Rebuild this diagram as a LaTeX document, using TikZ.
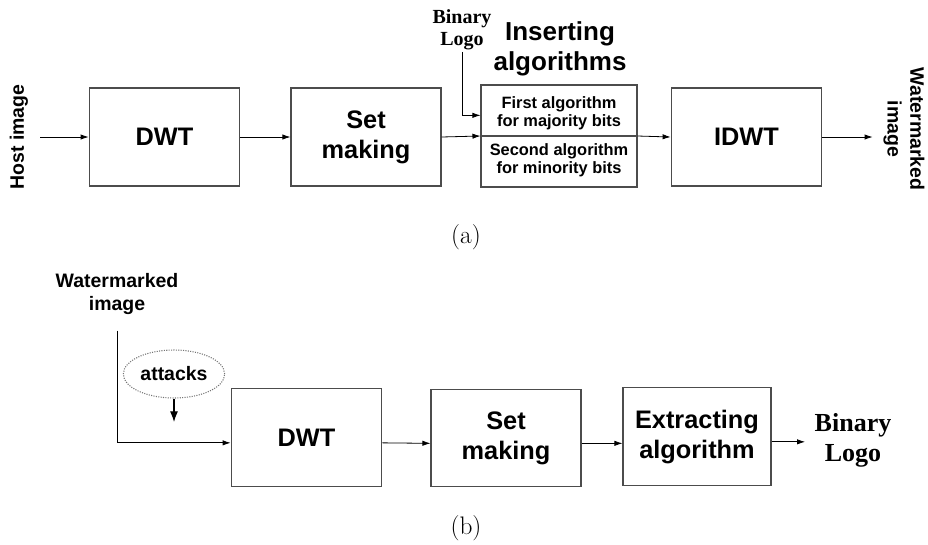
\documentclass[tikz,border=0pt]{standalone}
\usepackage{fontspec}
\setsansfont{Liberation Sans}
\newfontfamily\logofont{Liberation Serif}
\usetikzlibrary{arrows.meta,shapes.geometric}
\begin{document}
\begin{tikzpicture}[x=0.75pt, y=-0.75pt,
    box/.style={draw=black!70, line width=0.8pt, inner sep=0pt,
      minimum width=113pt, minimum height=73.5pt, align=center,
      font=\sffamily\bfseries\fontsize{19}{22.5}\selectfont},
    small/.style={align=center, inner sep=1pt,
      font=\sffamily\bfseries\fontsize{12.3}{13.2}\selectfont},
    label/.style={align=center, inner sep=1pt,
      font=\sffamily\bfseries\fontsize{14.6}{17}\selectfont},
    logo/.style={align=center, inner sep=1pt,
      font=\logofont\bfseries\fontsize{15}{16.5}\selectfont},
    arr/.style={-{Latex[length=6pt,width=4pt]}, line width=0.6pt}]
    \useasboundingbox (0,0) rectangle (928,544);
    % (a) embedding
    \node[label, rotate=90] (host) at (19,137) {Host image};
    \node[box] (dwt) at (164.5,137) {DWT};
    \node[box, minimum width=112.5pt] (set) at (366,137) {Set\\making};
    \node[draw=black!70, line width=0.8pt, minimum width=117pt,
          minimum height=76.5pt, inner sep=0pt] (ins) at (559,136) {};
    \draw[black!70, line width=0.8pt] (ins.west) -- (ins.east);
    \node[small] (first) at (559,113) {First algorithm\\for majority bits};
    \node[small] (second) at (559,160) {Second algorithm\\for minority bits};
    \node[label, font=\sffamily\bfseries\fontsize{19.5}{22.5}\selectfont]
         (title) at (560,49) {Inserting\\algorithms};
    \node[logo] (logoA) at (462,30) {Binary\\Logo};
    \node[box] (idwt) at (746.5,137) {IDWT};
    \node[label, rotate=-90] (wm) at (904,129) {Watermarked\\image};
    \draw[arr, shorten <=8pt] (host) -- (dwt);
    \draw[arr] (dwt) -- (set);
    \draw[arr] (set.east) -- (ins.west);
    \draw[arr] (logoA.south) |- ([yshift=15.5pt]ins.west);
    \draw[arr] (ins.east) -- (idwt.west);
    \draw[arr, shorten >=7pt] (idwt.east) -- (idwt.east -| wm.south);
    \node[font=\fontsize{19}{22}\selectfont] (capA) at (466,237) {(a)};
    % (b) extraction
    \node[label] (wm2) at (117,294) {Watermarked\\image};
    \node[label, draw=black!55, densely dotted, ellipse, line width=0.8pt,
          minimum width=76pt, minimum height=36pt, inner sep=0pt]
         (atk) at (174,374) {attacks};
    \coordinate (atkend) at (174,422);
    \node[box] (dwt2) at (306.5,437.5) {DWT};
    \node[box, minimum width=112.5pt, minimum height=73pt] (set2) at (506,438) {Set\\making};
    \node[box, minimum width=111pt, minimum height=73pt] (ext) at (697,436.5) {Extracting\\algorithm};
    \node[logo, font=\logofont\bfseries\fontsize{19.5}{22.5}\selectfont]
         (logoB) at (853,440) {Binary\\Logo};
    \draw[arr, shorten <=11pt] (wm2.south) |- ([yshift=-4pt]dwt2.west);
    \draw[-{Latex[length=8pt,width=6pt]}, line width=0.8pt] (atk.south) -- (atkend);
    \draw[arr] ([yshift=-4pt]dwt2.east) -- ([yshift=-4pt]set2.west);
    \draw[arr] ([yshift=-4pt]set2.east) -- ([yshift=-4pt]set2.east -| ext.west);
    \draw[arr, shorten >=6pt] ([yshift=-4pt]ext.east) -- ([yshift=-4pt]ext.east -| logoB.west);
    \node[font=\fontsize{19}{22}\selectfont] (capB) at (466,528) {(b)};
\end{tikzpicture}
\end{document}
